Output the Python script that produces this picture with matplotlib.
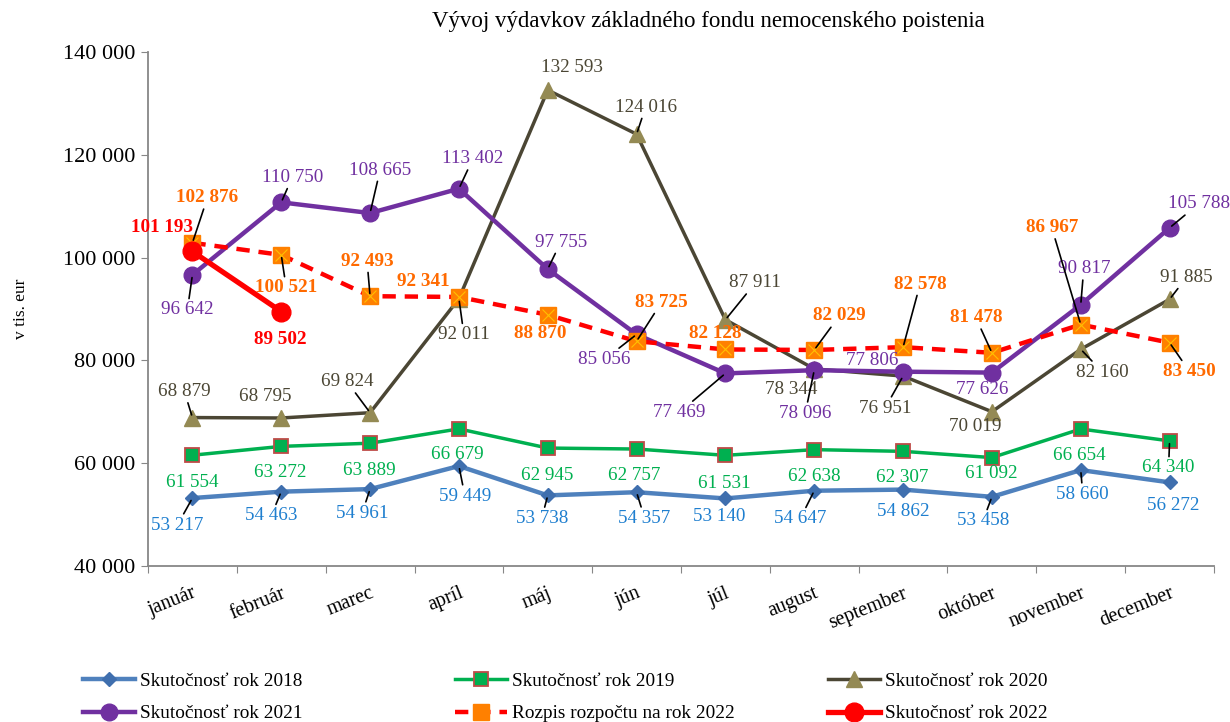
import numpy as np
import matplotlib
matplotlib.use("Agg")
import matplotlib.pyplot as plt
from matplotlib.ticker import FuncFormatter

plt.rcParams['font.family'] = ['Liberation Serif', 'DejaVu Serif']

months = ['január', 'február', 'marec', 'apríl', 'máj', 'jún', 'júl',
          'august', 'september', 'október', 'november', 'december']

skut_2018 = [53217, 54463, 54961, 59449, 53738, 54357, 53140, 54647, 54862, 53458, 58660, 56272]
skut_2019 = [61554, 63272, 63889, 66679, 62945, 62757, 61531, 62638, 62307, 61092, 66654, 64340]
skut_2020 = [68879, 68795, 69824, 92011, 132593, 124016, 87911, 78344, 76951, 70019, 82160, 91885]
skut_2021 = [96642, 110750, 108665, 113402, 97755, 85056, 77469, 78096, 77806, 77626, 90817, 105788]
rozpis_2022 = [102876, 100521, 92493, 92341, 88870, 83725, 82128, 82029, 82578, 81478, 86967, 83450]
skut_2022 = [101193, 89502]

# label offsets in pixels (dx, dy up) relative to each point, and which get a leader line
off_2018 = [(-15, -27), (-10, -24), (-8, -24), (6, -30), (-6, -23), (8, -26),
            (-6, -18), (-14, -28), (0, -22), (-9, -24), (2, -24), (4, -23)]
lead_2018 = [0, 1, 2, 3, 4, 5, 7, 9, 10]
off_2019 = [(0, -27), (-1, -26), (-1, -27), (-2, -26), (-1, -27), (-2, -26),
            (-1, -28), (0, -27), (-1, -26), (-1, -16), (-1, -27), (-1, -27)]
lead_2019 = [11]
off_2020 = [(-8, 26), (-16, 21), (-23, 31), (5, -36), (24, 23), (9, 27),
            (30, 37), (-23, -21), (-18, -32), (-17, -15), (22, -23), (17, 22)]
lead_2020 = [0, 2, 3, 5, 6, 8, 10, 11]
off_2021 = [(-5, -35), (11, 25), (10, 43), (14, 30), (13, 27), (-32, -25),
            (-46, -39), (-9, -43), (-31, 11), (-10, -17), (3, 36), (29, 24)]
lead_2021 = [0, 1, 2, 3, 4, 5, 6, 7, 10, 11]
off_rozpis = [(15, 45), (5, -33), (-3, 35), (-36, 15), (-8, -19), (25, 39),
              (-10, 16), (25, 34), (17, 63), (-16, 35), (-29, 97), (20, -29)]
lead_rozpis = [0, 1, 2, 5, 7, 8, 9, 10, 11]
off_2022 = [(-30, 24), (-1, -28)]
lead_2022 = []

fig = plt.figure(figsize=(12.3, 7.22), dpi=100)
ax = fig.add_axes([148 / 1230, 1 - 566 / 722, (1214 - 148) / 1230, (566 - 52) / 722])

x = np.arange(len(months))

h18, = ax.plot(x, skut_2018, color='#4f81bd', lw=3.2, marker='D', ms=7.5,
               mfc='#3f6fae', mec='#3f6fae', label='Skutočnosť rok 2018', zorder=3)
h19, = ax.plot(x, skut_2019, color='#00b050', lw=2.5, marker='s', ms=10.5,
               mfc='#00b050', mec='#be4b48', mew=1.3, label='Skutočnosť rok 2019', zorder=3)
h20, = ax.plot(x, skut_2020, color='#4b4634', lw=2.5, marker='^', ms=11,
               mfc='#948a54', mec='#948a54', label='Skutočnosť rok 2020', zorder=3)
h21, = ax.plot(x, skut_2021, color='#7030a0', lw=3.2, marker='o', ms=12,
               mfc='#7030a0', mec='#7030a0', label='Skutočnosť rok 2021', zorder=4)
hr, = ax.plot(x, rozpis_2022, color='#ff0000', lw=3.2, ls=(0, (3, 2)), marker='s', ms=12,
              mfc='#ff8000', mec='#ff8000', label='Rozpis rozpočtu na rok 2022', zorder=5)
ax.plot(x, rozpis_2022, ls='none', marker='x', ms=8, mec='#ffc000', mew=0.8, zorder=5)
h22, = ax.plot(x[:len(skut_2022)], skut_2022, color='#ff0000', lw=3.8, marker='o', ms=13.5,
               mfc='#ff0000', mec='#ff0000', label='Skutočnosť rok 2022', zorder=6)


def fmt(v):
    return f'{v:,}'.replace(',', ' ')


def add_labels(vals, offs, leads, color, bold=False):
    for i, (v, (dx, dy)) in enumerate(zip(vals, offs)):
        arrow = None
        if i in leads:
            arrow = dict(arrowstyle='-', color='black', lw=1.2, shrinkA=0, shrinkB=2)
        ax.annotate(fmt(v), (x[i], v), xytext=(dx, dy), textcoords='offset pixels',
                    ha='center', va='center', fontsize=13.8, color=color,
                    fontweight='bold' if bold else 'normal',
                    arrowprops=arrow, zorder=7)


add_labels(skut_2018, off_2018, lead_2018, '#1f7fcf')
add_labels(skut_2019, off_2019, lead_2019, '#00b050')
add_labels(skut_2020, off_2020, lead_2020, '#4b4634')
add_labels(skut_2021, off_2021, lead_2021, '#7030a0')
add_labels(rozpis_2022, off_rozpis, lead_rozpis, '#ff6a00', bold=True)
add_labels(skut_2022, off_2022, lead_2022, '#ff0000', bold=True)

ax.set_xlim(-0.5, 11.5)
ax.set_ylim(40000, 140000)
ax.set_yticks(np.arange(40000, 140001, 20000))
ax.yaxis.set_major_formatter(FuncFormatter(lambda v, p: fmt(int(v))))
ax.set_xticks(np.arange(-0.5, 12, 1))
ax.set_xticklabels([])
ax.set_xticks(x, minor=True)
ax.set_xticklabels(months, minor=True, rotation=22, ha='right',
                   rotation_mode='anchor', fontsize=14.5)
ax.tick_params(axis='x', which='minor', length=0, pad=13)
ax.tick_params(axis='x', which='major', length=5, color='#878787')
ax.tick_params(axis='y', length=5, color='#878787', labelsize=16, pad=4)

for s in ['top', 'right']:
    ax.spines[s].set_visible(False)
for s in ['left', 'bottom']:
    ax.spines[s].set_color('#878787')
    ax.spines[s].set_linewidth(1.3)

ax.set_ylabel('v tis. eur', fontsize=12.5)
ax.yaxis.set_label_coords((29 - 148) / 1066, 0.5)
fig.text(708 / 1230, 1 - 22 / 722, 'Vývoj výdavkov základného fondu nemocenského poistenia',
         ha='center', va='center', fontsize=16.5)

leg_kw = dict(loc='upper left', frameon=False, fontsize=13.9, handlelength=2.7,
              handletextpad=0.25, labelspacing=0.8, borderaxespad=0, borderpad=0)
fig.legend(handles=[h18, h21], bbox_to_anchor=(83 / 1230, 1 - 672 / 722), **leg_kw)
fig.legend(handles=[h19, hr], bbox_to_anchor=(455 / 1230, 1 - 672 / 722), **leg_kw)
fig.legend(handles=[h20, h22], bbox_to_anchor=(828 / 1230, 1 - 672 / 722), **leg_kw)

fig.savefig('out.png', dpi=100)
